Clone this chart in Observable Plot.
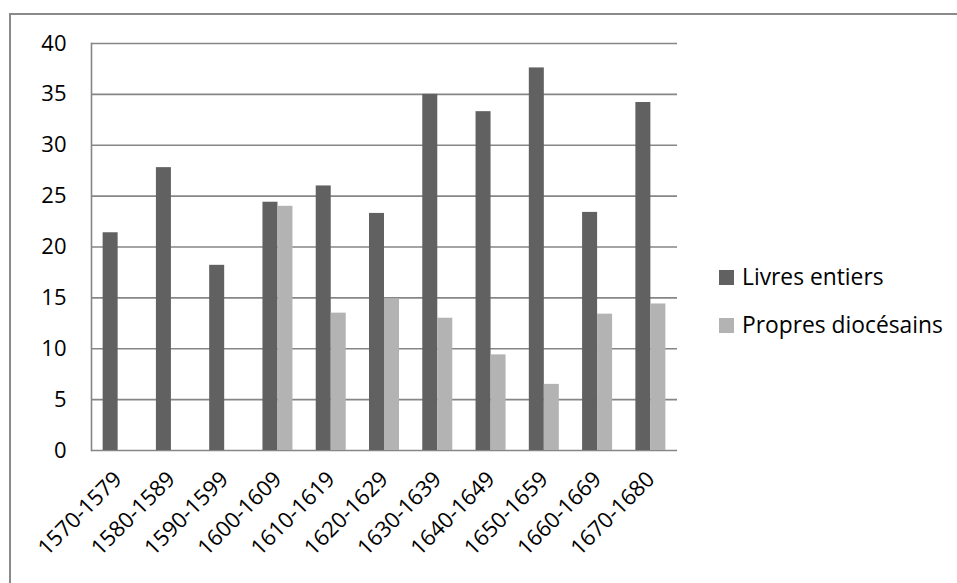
<!DOCTYPE html>
<html><head><meta charset="utf-8">
<script src="https://cdn.jsdelivr.net/npm/d3@7"></script>
<script src="https://cdn.jsdelivr.net/npm/@observablehq/plot@0.6"></script>
<style>
html,body{margin:0;padding:0;background:#fff;overflow:hidden;}
#wrap{position:relative;width:957px;height:583px;overflow:hidden;}
#border{position:absolute;left:9px;top:13px;width:1000px;height:700px;border:2px solid #8a8a8a;box-sizing:border-box;}
#chart{position:absolute;left:0;top:0;}
#legend{position:absolute;left:0;top:0;}
</style></head><body>
<div id="wrap"><div id="border"></div><div id="chart"></div><svg id="legend" width="957" height="583"></svg></div>
<script>
const decades = ["1570-1579","1580-1589","1590-1599","1600-1609","1610-1619","1620-1629","1630-1639","1640-1649","1650-1659","1660-1669","1670-1680"];
const livresEntiers = [21.4, 27.8, 18.2, 24.4, 26.0, 23.3, 35.0, 33.3, 37.6, 23.4, 34.2];
const propresDiocesains = [null, null, null, 24.0, 13.5, 14.9, 13.0, 9.4, 6.5, 13.4, 14.4];
const seriesNames = ["Livres entiers", "Propres diocésains"];
const seriesColors = ["#616161", "#b3b3b3"];
const yTicks = [0, 5, 10, 15, 20, 25, 30, 35, 40];

const rowsA = decades.map((d, i) => ({decade: d, value: livresEntiers[i]})).filter(r => r.value != null);
const rowsB = decades.map((d, i) => ({decade: d, value: propresDiocesains[i]})).filter(r => r.value != null);

const font = "Open Sans, sans-serif";
const chart = Plot.plot({
  width: 957, height: 583,
  marginLeft: 91, marginRight: 280, marginTop: 43, marginBottom: 133,
  style: {fontFamily: font, fontSize: "22px", color: "#000", background: "transparent", overflow: "visible"},
  x: {domain: decades, paddingInner: 0.4368, paddingOuter: 0.2184, round: false, label: null},
  y: {domain: [0, 40], ticks: yTicks, label: null},
  marks: [
    Plot.ruleY(yTicks, {stroke: "#868686", strokeWidth: 1.6}),
    Plot.barY(rowsA, {x: "decade", y: "value", fill: seriesColors[0], insetRight: 15}),
    Plot.barY(rowsB, {x: "decade", y: "value", fill: seriesColors[1], insetLeft: 15}),
    Plot.frame({anchor: "left", stroke: "#868686", strokeWidth: 1.6}),
    Plot.axisY({ticks: yTicks, tickSize: 0, tickPadding: 25, label: null, fontSize: 22}),
    Plot.axisX({tickSize: 0, tickRotate: -45, tickPadding: 25, label: null, fontSize: 22})
  ]
});
document.getElementById("chart").appendChild(chart);

const leg = d3.select("#legend");
seriesNames.forEach((name, i) => {
  const g = leg.append("g").attr("transform", `translate(719,${270 + i * 48})`);
  g.append("rect").attr("width", 15).attr("height", 15).attr("fill", seriesColors[i]);
  g.append("text").attr("x", 23).attr("y", 15).attr("font-family", font).attr("font-size", 22.8).attr("fill", "#000").text(name);
});
</script>
</body></html>
